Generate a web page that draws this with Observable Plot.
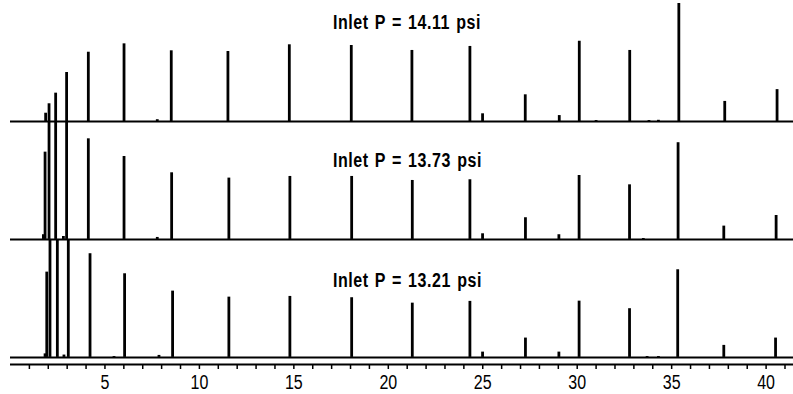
<!DOCTYPE html>
<html>
<head>
<meta charset="utf-8">
<script src="https://cdn.jsdelivr.net/npm/d3@7"></script>
<script src="https://cdn.jsdelivr.net/npm/@observablehq/plot@0.6"></script>
<style>
  html, body { margin: 0; padding: 0; background: #fff; }
  #chart svg { display: block; }
</style>
</head>
<body>
<div id="chart"></div>
<script>
// Trace labels (top to bottom)
const traceLabels = ["Inlet P = 14.11 psi", "Inlet P = 13.73 psi", "Inlet P = 13.21 psi"];

// Peak retention times (min) and heights (% of full scale) for each trace
const times1411 = [1.86, 2.04, 2.39, 2.97, 4.12, 6.01, 7.77, 8.51, 11.51, 14.76, 18.04, 21.25, 24.32, 24.99, 27.25, 29.05, 30.11, 31.0, 32.78, 33.8, 34.3, 35.38, 37.81, 40.58];
const heights1411 = [7, 15, 24, 41.5, 58.7, 65.8, 1.5, 59.9, 59.3, 65, 64.4, 60.2, 63.6, 6.5, 22.6, 5, 68, 0.8, 60.2, 0.8, 1, 100, 17, 27];

const times1373 = [1.74, 1.83, 2.04, 2.39, 2.8, 2.97, 4.12, 6.01, 7.77, 8.53, 11.56, 14.79, 18.06, 21.27, 24.32, 24.99, 27.26, 29.03, 30.1, 32.77, 33.5, 35.34, 37.76, 40.53];
const heights1373 = [4, 74, 100, 100, 2.5, 100, 85.3, 70.3, 1.7, 56.5, 52, 53.4, 53.4, 50, 50.6, 4.8, 18.4, 4, 54.2, 46.3, 0.8, 82, 11.3, 20.3];

const times1321 = [1.83, 1.92, 2.09, 2.48, 2.83, 3.06, 4.21, 5.48, 6.04, 7.86, 8.58, 11.56, 14.79, 18.06, 21.27, 24.32, 24.99, 27.26, 29.03, 30.1, 32.77, 33.7, 34.3, 35.32, 37.76, 40.5];
const heights1321 = [3, 72.3, 100, 100, 2, 100, 87.9, 0.8, 70.9, 1.7, 56.2, 51.1, 51.7, 50.6, 46, 47.5, 4.5, 16.4, 4.5, 47.7, 41.3, 0.8, 0.8, 74.3, 10.2, 16.4];

// Axis ticks
const tickValues = d3.range(1, 42);
const tickLabelStep = 5;

const traces = [
  {label: traceLabels[0], times: times1411, heights: heights1411},
  {label: traceLabels[1], times: times1373, heights: heights1373},
  {label: traceLabels[2], times: times1321, heights: heights1321}
];
const fullScale = 100;
const nTr = traces.length;
const offsetOf = (i) => (nTr - 1 - i) * fullScale;

const peaks = traces.flatMap((tr, i) =>
  tr.times.map((t, j) => ({t, base: offsetOf(i), top: offsetOf(i) + tr.heights[j]}))
);
const baselines = traces.map((tr, i) => offsetOf(i));
const labelLevels = [78, 61, 60];
const labelRows = traces.map((tr, i) => ({text: tr.label, y: offsetOf(i) + labelLevels[i]}));

const font = '"Liberation Sans", Arial, sans-serif';

const chart = Plot.plot({
  width: 793,
  height: 394,
  marginLeft: 10,
  marginRight: 0,
  marginTop: 3,
  marginBottom: 30,
  style: {fontFamily: font, fontSize: "19px", color: "#000", background: "#fff"},
  x: {domain: [0, 41.45]},
  y: {domain: [-6, 300], axis: null},
  marks: [
    Plot.ruleY(baselines, {stroke: "#000", strokeWidth: 2}),
    Plot.ruleX(peaks, {x: "t", y1: "base", y2: "top", stroke: "#000", strokeWidth: 2.8}),
    Plot.ruleY([-6], {stroke: "#000", strokeWidth: 2}),
    Plot.axisX({
      ticks: tickValues,
      tickSize: 5,
      tickPadding: 5,
      tickFormat: (d) => (d % tickLabelStep === 0 ? String(d) : ""),
      label: null,
      stroke: "#000",
      strokeWidth: 1.5,
      fontSize: 20
    }),
    Plot.text(labelRows, {
      x: 17.07,
      y: "y",
      text: "text",
      textAnchor: "start",
      lineAnchor: "bottom",
      fontWeight: "bold",
      fontSize: 20,
      fill: "#000"
    })
  ]
});
// condensed look: narrow each text horizontally about its anchor
d3.select(chart).selectAll("text").each(function () {
  const el = d3.select(this);
  const tr = el.attr("transform") || "";
  el.attr("transform", tr + " scale(0.8,1)");
});
// wider tracking for the trace labels
d3.select(chart).selectAll("g[font-weight='bold']").selectAll("text")
  .style("letter-spacing", "0.7px").style("word-spacing", "1.5px");
document.getElementById("chart").appendChild(chart);
</script>
</body>
</html>
